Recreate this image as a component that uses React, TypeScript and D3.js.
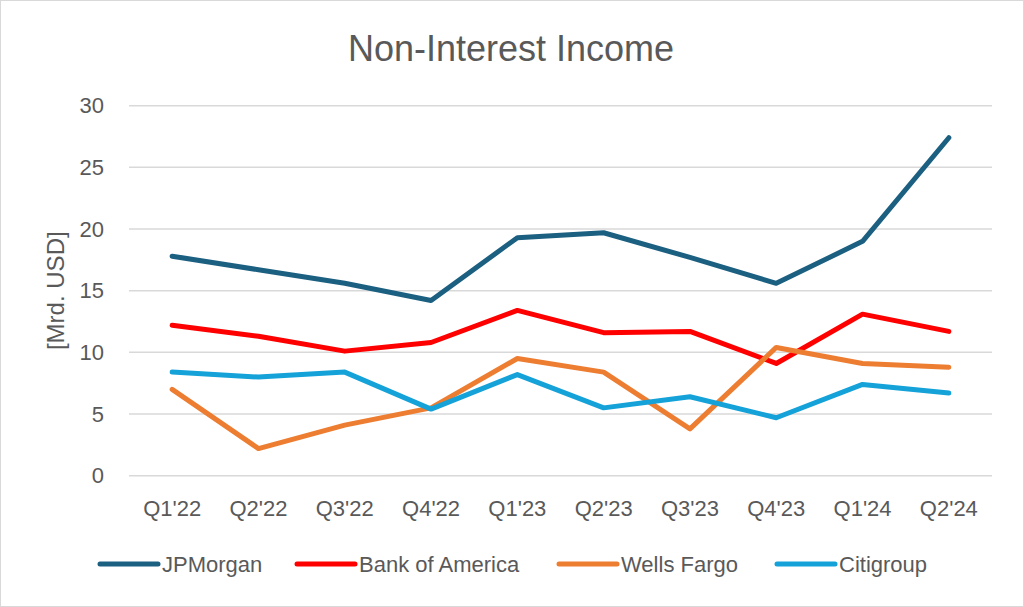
import React from "react";
import * as d3 from "d3";

const categories = ["Q1'22", "Q2'22", "Q3'22", "Q4'22", "Q1'23", "Q2'23", "Q3'23", "Q4'23", "Q1'24", "Q2'24"];
const jpmorgan = [17.8, 16.7, 15.6, 14.2, 19.3, 19.7, 17.7, 15.6, 19.0, 27.4];
const bankOfAmerica = [12.2, 11.3, 10.1, 10.8, 13.4, 11.6, 11.7, 9.1, 13.1, 11.7];
const wellsFargo = [7.0, 2.2, 4.1, 5.5, 9.5, 8.4, 3.8, 10.4, 9.1, 8.8];
const citigroup = [8.4, 8.0, 8.4, 5.4, 8.2, 5.5, 6.4, 4.7, 7.4, 6.7];
const yTicks = [0, 5, 10, 15, 20, 25, 30];
const seriesNames = ["JPMorgan", "Bank of America", "Wells Fargo", "Citigroup"];
const seriesColors = ["#1B5F81", "#FF0000", "#ED7D31", "#14A2D9"];

const W = 1024;
const H = 607;
const font = "'Liberation Sans', Arial, sans-serif";

export default function App() {
  const x = d3.scaleBand<string>().domain(categories).range([129, 992]);
  const y = d3.scaleLinear().domain([0, 30]).range([475.7, 105.7]);
  const line = d3
    .line<number>()
    .x((_, i) => (x(categories[i]) as number) + x.bandwidth() / 2)
    .y((d) => y(d));
  const allSeries = [jpmorgan, bankOfAmerica, wellsFargo, citigroup];
  const legendX = [100, 297, 559, 777];

  return (
    <svg
      width={W}
      height={H}
      style={{ position: "fixed", left: 0, top: 0, background: "#fff" }}
      fontFamily={font}
    >
      <rect x={0.5} y={0.5} width={W - 1} height={H - 1} fill="#fff" stroke="#d9d9d9" strokeWidth={1} />
      <text x={511} y={61} textAnchor="middle" fontSize={36} fill="#595959">
        Non-Interest Income
      </text>
      {yTicks.map((t) => (
        <g key={t}>
          <line x1={129} x2={992} y1={y(t)} y2={y(t)} stroke="#d9d9d9" strokeWidth={1.5} />
          <text x={104} y={y(t)} dy="0.35em" textAnchor="end" fontSize={22} fill="#595959">
            {t}
          </text>
        </g>
      ))}
      <text
        transform={`translate(56, ${(y(0) + y(30)) / 2}) rotate(-90)`}
        textAnchor="middle"
        dy="0.35em"
        fontSize={24}
        fill="#595959"
      >
        [Mrd. USD]
      </text>
      {categories.map((c) => (
        <text
          key={c}
          x={(x(c) as number) + x.bandwidth() / 2}
          y={516}
          textAnchor="middle"
          fontSize={22}
          fill="#595959"
        >
          {c}
        </text>
      ))}
      {allSeries.map((s, i) => (
        <path
          key={seriesNames[i]}
          d={line(s) as string}
          fill="none"
          stroke={seriesColors[i]}
          strokeWidth={5}
          strokeLinecap="round"
          strokeLinejoin="round"
        />
      ))}
      {seriesNames.map((n, i) => (
        <g key={n}>
          <line
            x1={legendX[i]}
            x2={legendX[i] + 58}
            y1={564}
            y2={564}
            stroke={seriesColors[i]}
            strokeWidth={5}
            strokeLinecap="round"
          />
          <text x={legendX[i] + 62} y={564} dy="0.35em" fontSize={22} fill="#595959">
            {n}
          </text>
        </g>
      ))}
    </svg>
  );
}
